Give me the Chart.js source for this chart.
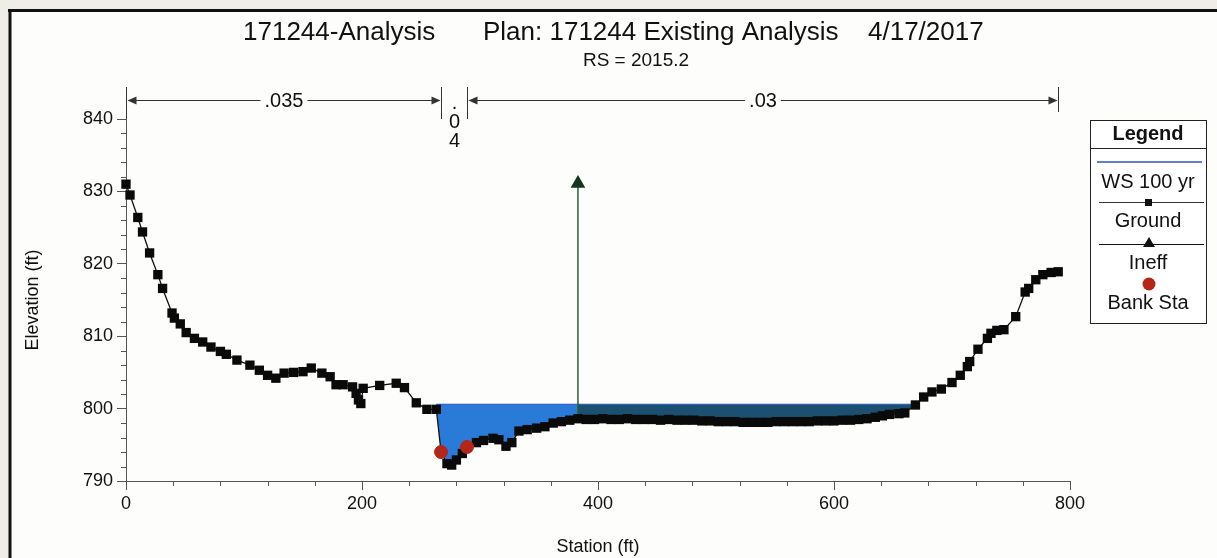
<!DOCTYPE html>
<html><head><meta charset="utf-8">
<script src="https://cdn.jsdelivr.net/npm/chart.js@4.4.0/dist/chart.umd.min.js"></script>
<style>html,body{margin:0;padding:0;background:#eeede8;overflow:hidden;} canvas{display:block;}</style>
</head><body>
<canvas id="c" width="1217" height="558"></canvas>
<script>
// ---------- data ----------
const groundStation = [0,3.4,10,14,20,27,31,39,41,46,51,58,65,72,80,85,94,105,113,120,127,134,142,150,157,166,173,178,184,192,195,197,199,201,215,229,236,246,255,263,
  267,272,276,280,285,289,297,303,311,316,322,327,333,340,348,355,362,369,376,383,
  390,397,404,411,418,425,432,439,446,453,460,467,474,481,488,495,502,509,516,523,530,537,544,551,558,565,572,579,586,593,600,607,614,621,628,635,641,647,655,660,
  669,676,683,691,700,707,713,715,722,730,733,738,744,754,762,765,771,777,784,790];
const groundElevation = [831.0,829.5,826.4,824.4,821.5,818.5,816.6,813.2,812.5,811.7,810.5,809.7,809.2,808.5,807.9,807.5,806.7,806.0,805.3,804.6,804.2,804.9,805.0,805.1,805.6,804.9,804.4,803.3,803.3,803.0,802.1,801.2,800.7,802.8,803.2,803.5,802.9,800.8,799.9,799.9,
  794.0,792.4,792.2,792.9,793.8,794.7,795.3,795.6,795.9,795.7,794.8,795.3,796.9,797.1,797.3,797.5,798.0,798.2,798.4,798.6,
  798.5,798.5,798.6,798.5,798.5,798.6,798.5,798.5,798.5,798.4,798.5,798.4,798.4,798.4,798.3,798.3,798.2,798.2,798.2,798.1,798.1,798.1,798.1,798.2,798.2,798.2,798.2,798.2,798.3,798.3,798.3,798.4,798.4,798.5,798.6,798.8,799.0,799.2,799.3,799.4,
  800.5,801.6,802.3,802.7,803.6,804.6,805.8,806.5,808.2,809.7,810.4,810.8,810.9,812.7,816.1,816.6,817.8,818.5,818.8,818.9];
const wsElevation = 800.6;
const wsLeftStation = 263;   // water fill starts here in the picture
const ineffStation = 383;
const ineffElevation = 831.1;
const bankStations = [267, 289];
const bankElevations = [794.0, 794.7];
const nStations = [0, 267, 289, 790];
const nValues = ['.035', '.04', '.03'];
const xTickValues = [0, 200, 400, 600, 800];
const yTickValues = [790, 800, 810, 820, 830, 840];
const titleParts = ['171244-Analysis', 'Plan: 171244 Existing Analysis', '4/17/2017'];
const subTitle = 'RS = 2015.2';
const legendTitle = 'Legend';
const legendLabels = ['WS 100 yr', 'Ground', 'Ineff', 'Bank Sta'];
const xTitle = 'Station (ft)';
const yTitle = 'Elevation (ft)';

// ---------- derived geometry for the library ----------
const ground = groundStation.map((s, i) => ({x: s, y: groundElevation[i]}));
function groundAt(s) {
  for (let i = 1; i < groundStation.length; i++) {
    if (groundStation[i] >= s) {
      const s0 = groundStation[i-1], s1 = groundStation[i];
      const e0 = groundElevation[i-1], e1 = groundElevation[i];
      return e0 + (e1 - e0) * (s - s0) / (s1 - s0);
    }
  }
  return groundElevation[groundElevation.length - 1];
}
let inv = 0;
groundElevation.forEach((e, i) => { if (e < groundElevation[inv]) inv = i; });
function crossRight() {
  let i = inv; while (i < groundElevation.length - 1 && groundElevation[i] < wsElevation) i++;
  const s0 = groundStation[i-1], s1 = groundStation[i], e0 = groundElevation[i-1], e1 = groundElevation[i];
  return s0 + (wsElevation - e0) * (s1 - s0) / (e1 - e0);
}
const wsLeft = wsLeftStation, wsRight = crossRight();
function waterPolygon(lo, hi) {
  const pts = [{x: lo, y: wsElevation}, {x: hi, y: wsElevation}, {x: hi, y: groundAt(hi)}];
  for (let i = groundStation.length - 1; i >= 0; i--) {
    if (groundStation[i] > lo && groundStation[i] < hi) pts.push({x: groundStation[i], y: groundElevation[i]});
  }
  pts.push({x: lo, y: groundAt(lo)});
  pts.push({x: lo, y: wsElevation});
  return pts;
}

const FONT = "'Liberation Sans', Arial, Helvetica, sans-serif";
Chart.defaults.font.family = FONT;
Chart.defaults.color = '#111';

// ---------- decorations ----------
const deco = {
  id: 'deco',
  beforeDraw(chart) {
    const ctx = chart.ctx;
    ctx.save();
    ctx.fillStyle = '#eeede8';
    ctx.fillRect(0, 0, chart.width, chart.height);
    ctx.fillStyle = '#fdfdfb';
    ctx.fillRect(11, 11, chart.width - 11, chart.height - 11);
    ctx.strokeStyle = '#111';
    ctx.lineWidth = 3;
    ctx.beginPath();
    ctx.moveTo(8, 10.5); ctx.lineTo(chart.width, 10.5);
    ctx.moveTo(10, 9); ctx.lineTo(10, chart.height);
    ctx.stroke();
    ctx.restore();
  },
  afterDraw(chart) {
    const ctx = chart.ctx;
    const xs = chart.scales.x, ys = chart.scales.y;
    const area = chart.chartArea;
    ctx.save();
    // titles
    ctx.fillStyle = '#111';
    ctx.textBaseline = 'middle';
    ctx.font = '26px ' + FONT;
    const tStarts = [243, 483, 868];
    titleParts.forEach((t, i) => { ctx.textAlign = 'left'; ctx.fillText(t, tStarts[i], 33); });
    ctx.font = '19px ' + FONT;
    ctx.textAlign = 'center';
    ctx.fillText(subTitle, 636, 61);

    // minor ticks
    ctx.strokeStyle = '#555';
    ctx.lineWidth = 1;
    ctx.beginPath();
    for (let v = 790; v <= 840; v += 2) {
      if (v % 10 === 0) continue;
      const py = Math.round(ys.getPixelForValue(v)) + 0.5;
      ctx.moveTo(area.left - 5, py); ctx.lineTo(area.left, py);
    }
    for (let v = 0; v <= 800; v += 40) {
      if (v % 200 === 0) continue;
      const px = Math.round(xs.getPixelForValue(v)) + 0.5;
      ctx.moveTo(px, area.bottom); ctx.lineTo(px, area.bottom + 5);
    }
    ctx.stroke();

    // Manning's n bar
    const barY = 100.5;
    const px = nStations.map(s => Math.round(xs.getPixelForValue(s)) + 0.5);
    ctx.strokeStyle = '#333';
    ctx.fillStyle = '#333';
    ctx.beginPath();
    px.forEach((p, i) => { ctx.moveTo(p, 87); ctx.lineTo(p, i === px.length - 1 ? 112 : 119); });
    ctx.stroke();
    ctx.font = '20px ' + FONT;
    function arrowHead(tipX, dir) {
      ctx.beginPath();
      ctx.moveTo(tipX, barY);
      ctx.lineTo(tipX - dir * 9, barY - 4);
      ctx.lineTo(tipX - dir * 9, barY + 4);
      ctx.closePath();
      ctx.fill();
    }
    for (let i = 0; i < nValues.length; i++) {
      const a = px[i], b = px[i + 1];
      const w = ctx.measureText(nValues[i]).width;
      if (b - a > w + 30) {
        const mid = (a + b) / 2;
        ctx.beginPath();
        ctx.moveTo(a + 2, barY); ctx.lineTo(mid - w / 2 - 4, barY);
        ctx.moveTo(mid + w / 2 + 4, barY); ctx.lineTo(b - 2, barY);
        ctx.stroke();
        arrowHead(a + 1, -1);
        arrowHead(b - 1, 1);
        ctx.fillStyle = '#111';
        ctx.textAlign = 'center';
        ctx.fillText(nValues[i], mid, barY + 1);
        ctx.fillStyle = '#333';
      } else {
        const mid = (a + b) / 2;
        ctx.fillStyle = '#111';
        ctx.textAlign = 'center';
        const chars = nValues[i].split('');
        chars.forEach((c, k) => ctx.fillText(c, mid, 103 + k * 19));
        ctx.fillStyle = '#333';
      }
    }

    // legend
    const lx = 1090, ly = 120, lw = 116, lh = 203;
    ctx.strokeStyle = '#222';
    ctx.lineWidth = 1;
    ctx.fillStyle = '#fff';
    ctx.fillRect(lx, ly, lw, lh);
    ctx.strokeRect(lx + 0.5, ly + 0.5, lw, lh);
    ctx.beginPath(); ctx.moveTo(lx, 148.5); ctx.lineTo(lx + lw, 148.5); ctx.stroke();
    const cx = lx + lw / 2;
    ctx.fillStyle = '#111';
    ctx.textAlign = 'center';
    ctx.font = 'bold 20px ' + FONT;
    ctx.fillText(legendTitle, cx, 134);
    ctx.font = '20px ' + FONT;
    // WS
    ctx.strokeStyle = '#2a55c0'; ctx.lineWidth = 1.5;
    ctx.beginPath(); ctx.moveTo(lx + 7, 162); ctx.lineTo(lx + lw - 4, 162); ctx.stroke();
    ctx.fillText(legendLabels[0], cx, 182);
    // Ground
    ctx.strokeStyle = '#333'; ctx.lineWidth = 1;
    ctx.beginPath(); ctx.moveTo(lx + 9, 202.5); ctx.lineTo(lx + lw - 2, 202.5); ctx.stroke();
    ctx.fillStyle = '#111'; ctx.fillRect(cx - 3, 199, 7, 7);
    ctx.fillText(legendLabels[1], cx, 221);
    // Ineff
    ctx.strokeStyle = '#111'; ctx.lineWidth = 1.2;
    ctx.beginPath(); ctx.moveTo(lx + 9, 244.5); ctx.lineTo(lx + lw - 2, 244.5); ctx.stroke();
    ctx.beginPath(); ctx.moveTo(cx + 1, 237); ctx.lineTo(cx + 7, 247); ctx.lineTo(cx - 5, 247); ctx.closePath(); ctx.fill();
    ctx.fillText(legendLabels[2], cx, 263);
    // Bank
    ctx.fillStyle = '#b5261a';
    ctx.beginPath(); ctx.arc(cx + 1, 284, 6.5, 0, Math.PI * 2); ctx.fill();
    ctx.fillStyle = '#111';
    ctx.fillText(legendLabels[3], cx, 303);
    ctx.restore();
  }
};

new Chart(document.getElementById('c'), {
  type: 'line',
  data: {
    datasets: [
      {label: 'Bank Sta', data: bankStations.map((s, i) => ({x: s, y: bankElevations[i]})), showLine: false,
        pointStyle: 'circle', pointRadius: 6.5, pointBackgroundColor: '#b5261a', pointBorderColor: '#b5261a', order: 0, clip: false},
      {label: 'Ground', data: ground, borderColor: '#111', borderWidth: 1.3, pointStyle: 'rect', pointRadius: 6.6,
        pointBackgroundColor: '#0a0a0a', pointBorderColor: '#0a0a0a', pointBorderWidth: 0, order: 1, clip: false},
      {label: 'Ineff', data: [{x: ineffStation, y: groundAt(ineffStation)}, {x: ineffStation, y: ineffElevation}],
        borderColor: '#2c5a3a', borderWidth: 1.5, pointStyle: 'triangle', pointRadius: [0, 7],
        pointBackgroundColor: '#17361f', pointBorderColor: '#17361f', order: 2, clip: false},
      {label: 'WS 100 yr', data: [{x: wsLeft, y: wsElevation}, {x: wsRight, y: wsElevation}],
        borderColor: '#2a55c0', borderWidth: 1.2, pointRadius: 0, order: 3},
      {label: 'water', data: waterPolygon(wsLeft, ineffStation), fill: 'shape', backgroundColor: '#2a7bd8',
        borderWidth: 0, borderColor: 'rgba(0,0,0,0)', pointRadius: 0, order: 4},
      {label: 'water ineff', data: waterPolygon(ineffStation, wsRight), fill: 'shape', backgroundColor: '#1b5070',
        borderWidth: 0, borderColor: 'rgba(0,0,0,0)', pointRadius: 0, order: 5}
    ]
  },
  options: {
    responsive: false,
    animation: false,
    devicePixelRatio: 1,
    events: [],
    layout: {padding: {top: 119, right: 147, left: 0, bottom: 0}},
    plugins: {legend: {display: false}, tooltip: {enabled: false}, title: {display: false}},
    scales: {
      x: {
        type: 'linear', min: 0, max: 800,
        afterBuildTicks(s) { s.ticks = xTickValues.map(v => ({value: v})); },
        afterFit(s) { s.height = 77; },
        ticks: {font: {size: 18}, color: '#111', padding: 3, autoSkip: false, maxRotation: 0},
        grid: {drawOnChartArea: false, drawTicks: true, tickLength: 9, color: '#555'},
        border: {color: '#555', width: 1},
        title: {display: true, text: xTitle, font: {size: 18}, color: '#111', padding: {top: 0, bottom: 0}}
      },
      y: {
        type: 'linear', min: 790, max: 840,
        afterBuildTicks(s) { s.ticks = yTickValues.map(v => ({value: v})); },
        afterFit(s) { s.width = 126; },
        ticks: {font: {size: 18}, color: '#111', padding: 4, autoSkip: false},
        grid: {drawOnChartArea: false, drawTicks: true, tickLength: 9, color: '#555'},
        border: {color: '#555', width: 1},
        title: {display: true, text: yTitle, font: {size: 18}, color: '#111', padding: {top: 22, bottom: 0}}
      }
    }
  },
  plugins: [deco]
});
</script>
</body></html>
